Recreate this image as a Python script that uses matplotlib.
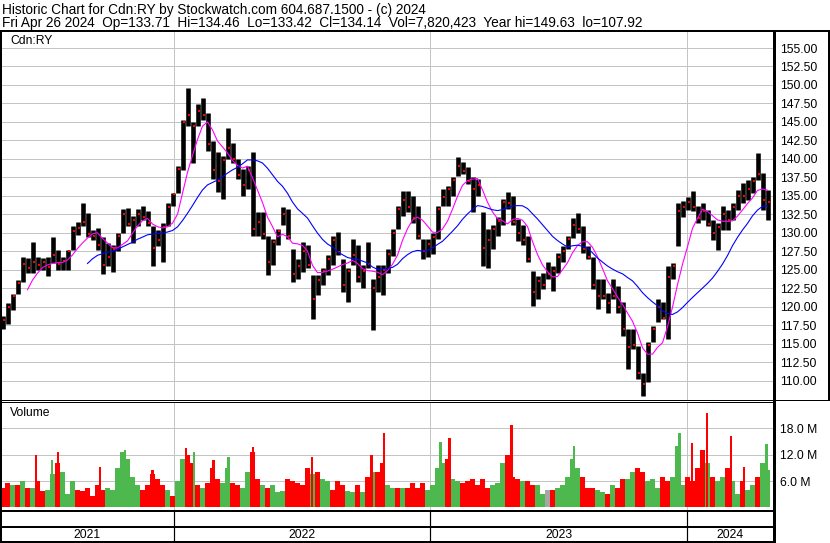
"""
Stockwatch-style historic chart for Cdn:RY, weekly bars read off the reference.
"""
import numpy as np
import pandas as pd
import matplotlib
matplotlib.use("Agg")
import matplotlib.pyplot as plt
from matplotlib.lines import Line2D

plt.rcParams['font.family'] = ['Liberation Sans', 'DejaVu Sans']

# weekly price ranges (high / low / close), oldest first
high = [118.7, 120.5, 121.8, 123.6, 126.8, 126.6, 128.8, 126.8, 126.6, 126.8,
        129.5, 127.7, 126.8, 127.7, 130.9, 131.5, 134.1, 132.7, 130.4, 130.7,
        129.5, 128.6, 128.4, 130.0, 133.2, 133.4, 132.3, 133.2, 133.6, 133.0,
        130.9, 130.4, 131.3, 134.0, 135.4, 139.0, 145.3, 149.6, 145.0, 147.4,
        148.3, 146.2, 142.4, 140.9, 140.4, 144.2, 142.2, 140.0, 138.6, 139.0,
        140.9, 132.8, 132.8, 129.6, 129.2, 130.5, 133.5, 133.2, 127.8, 126.5,
        128.7, 128.3, 124.3, 124.3, 125.2, 127.0, 129.6, 130.1, 126.5, 125.2,
        129.2, 128.3, 125.6, 128.7, 123.8, 125.6, 125.6, 127.8, 130.5, 133.7,
        135.7, 135.7, 135.0, 133.7, 129.2, 129.2, 130.0, 133.7, 135.9, 136.4,
        137.5, 140.2, 139.6, 138.9, 137.5, 137.3, 132.8, 130.5, 131.0, 132.1,
        134.6, 135.5, 135.0, 131.9, 131.0, 129.6, 124.9, 124.2, 124.6, 126.0,
        125.5, 127.3, 128.2, 129.6, 132.0, 132.7, 130.9, 128.2, 126.8, 123.7,
        123.7, 121.9, 123.7, 122.8, 120.6, 117.0, 117.0, 114.7, 111.1, 115.2,
        117.4, 121.0, 120.6, 125.5, 125.9, 134.0, 134.3, 134.9, 135.6, 133.6,
        134.0, 133.1, 131.8, 131.3, 133.6, 133.1, 134.0, 135.8, 136.7, 137.2,
        137.6, 140.8, 138.1, 135.8]
low = [117.0, 117.7, 119.6, 121.8, 123.4, 124.6, 124.6, 125.0, 125.0, 124.2,
       125.9, 125.0, 125.0, 125.0, 127.7, 129.7, 130.9, 129.5, 129.1, 127.7,
       124.4, 125.5, 124.7, 127.6, 130.0, 130.9, 128.6, 130.9, 131.8, 130.9,
       125.5, 128.2, 126.1, 130.9, 133.6, 135.4, 138.5, 144.5, 139.5, 144.4,
       145.3, 141.1, 137.3, 135.5, 134.6, 140.0, 139.5, 137.3, 135.0, 135.9,
       129.6, 129.6, 129.2, 124.3, 125.6, 128.3, 131.0, 129.2, 123.4, 123.8,
       124.7, 125.2, 118.4, 121.6, 122.9, 124.3, 125.6, 127.0, 122.0, 120.7,
       125.6, 123.4, 122.5, 125.2, 116.9, 122.0, 121.6, 124.6, 126.9, 130.5,
       132.3, 132.8, 131.4, 129.2, 126.4, 126.7, 127.1, 129.2, 133.7, 133.7,
       135.0, 137.7, 138.0, 136.6, 132.8, 135.0, 125.5, 125.3, 127.8, 129.6,
       131.0, 133.2, 131.0, 128.9, 128.3, 126.0, 120.1, 121.0, 122.4, 123.7,
       122.1, 124.6, 126.0, 127.8, 129.3, 130.0, 127.3, 126.4, 122.4, 119.7,
       121.0, 119.2, 121.0, 119.2, 116.1, 111.6, 114.3, 110.2, 107.9, 109.8,
       115.2, 117.9, 118.3, 115.6, 123.7, 128.2, 132.2, 133.1, 132.9, 131.3,
       131.8, 130.9, 129.1, 127.7, 130.4, 130.4, 131.8, 133.1, 134.0, 134.5,
       135.4, 137.2, 133.1, 131.8]
close = [118.2, 120.0, 121.5, 123.2, 125.8, 125.2, 126.0, 125.6, 126.0, 125.4,
         127.0, 125.8, 126.2, 127.5, 130.2, 130.6, 131.5, 129.8, 129.6, 128.4,
         125.6, 126.8, 127.8, 129.6, 132.5, 131.2, 131.8, 132.6, 132.2, 131.4,
         128.0, 129.0, 130.8, 133.5, 135.2, 138.6, 145.0, 146.0, 144.5, 146.5,
         146.0, 142.0, 138.5, 137.0, 139.8, 141.5, 140.0, 137.8, 136.5, 138.5,
         130.5, 131.5, 129.8, 126.0, 128.8, 130.2, 132.5, 129.6, 124.5, 125.5,
         127.5, 125.6, 121.0, 123.6, 124.8, 126.5, 129.0, 127.4, 123.0, 124.8,
         127.0, 124.0, 124.8, 125.8, 122.5, 124.0, 125.0, 127.2, 130.0, 133.2,
         134.5, 133.5, 132.0, 129.6, 127.5, 128.5, 129.5, 133.2, 134.8, 136.0,
         137.2, 139.0, 138.4, 137.0, 136.0, 136.5, 128.0, 129.0, 130.5, 131.6,
         134.2, 134.0, 131.5, 130.0, 129.0, 126.5, 122.0, 123.5, 123.0, 124.5,
         124.8, 126.8, 127.5, 129.2, 131.0, 130.5, 127.8, 126.8, 123.0, 121.5,
         121.5, 120.5, 121.5, 120.0, 117.0, 114.5, 114.8, 111.0, 109.5, 114.8,
         117.0, 120.0, 118.5, 124.0, 125.5, 133.0, 133.5, 134.2, 133.5, 132.0,
         133.0, 131.2, 130.0, 130.8, 132.5, 131.8, 133.5, 135.0, 135.0, 136.0,
         137.0, 138.0, 134.5, 134.14]

# weekly volume in millions and bar colour (g = up, r = down, n = unchanged)
volume = [4.5, 5.5, 5.2, 5.0, 6.0, 4.3, 4.5, 6.0, 3.8, 4.0,
          7.5, 10.0, 8.0, 3.0, 6.0, 4.0, 3.8, 4.5, 2.5, 5.0,
          4.0, 4.5, 4.0, 9.0, 12.5, 11.0, 7.0, 5.0, 4.0, 5.0,
          7.5, 6.5, 5.0, 4.0, 2.5, 6.0, 11.0, 12.0, 10.0, 5.0,
          4.5, 5.5, 9.0, 6.5, 5.5, 9.0, 5.5, 5.0, 4.5, 8.0,
          12.5, 6.5, 5.0, 4.5, 5.0, 3.5, 3.8, 6.5, 6.0, 5.5,
          5.0, 9.0, 7.5, 8.0, 6.5, 6.0, 4.0, 6.0, 5.0, 3.8,
          3.5, 5.0, 3.5, 7.0, 8.0, 8.0, 10.0, 5.0, 4.5, 4.5,
          4.5, 4.5, 5.5, 4.5, 5.5, 4.0, 5.0, 9.0, 10.0, 11.0,
          6.5, 6.0, 5.5, 6.0, 6.5, 5.0, 6.5, 4.5, 5.0, 5.5,
          10.0, 12.0, 7.0, 6.5, 6.0, 6.0, 5.0, 5.0, 3.0, 4.0,
          4.0, 4.5, 5.0, 7.0, 11.0, 9.0, 7.0, 4.5, 4.5, 4.0,
          3.5, 3.0, 5.0, 4.5, 6.5, 6.5, 8.0, 9.0, 8.0, 6.0,
          6.5, 4.5, 7.0, 6.0, 7.0, 14.0, 5.0, 7.0, 6.0, 9.0,
          13.0, 10.0, 7.0, 6.0, 7.0, 9.0, 6.0, 3.0, 6.0, 4.0,
          5.0, 7.0, 10.0, 8.5]
vol_dir = list("rrgrgrgrrg" "grgggrrrrr" "rgggggggrr" "rrrgrggrrr" "grrrggrrgg"
               "rrgrgggrrr" "rrgrggrrrg" "grgrgrrggr" "grrrrggggr" "ggrrrrrrgg"
               "grrrgrrggn" "rgggggrrrg" "grgrrggrrg" "ggrrgggrrr" "rgrggrggrg"
               "grgg")

# single heavy-volume days (week position, millions, colour)
spike_week = [6.7, 9.9, 11.1, 19.5, 24.5, 30.0, 36.7, 38.3, 42.2, 45.2, 50.1, 61.9,
              73.8, 76.3, 87.6, 89.4, 101.8, 114.3, 135.4, 137.9, 140.9, 145.7,
              148.3, 152.8]
spike_vol = [12.0, 10.7, 12.7, 9.2, 13.0, 8.5, 13.5, 12.7, 10.8, 11.5, 13.8, 11.5,
             12.0, 16.9, 14.8, 15.8, 18.7, 13.9, 16.9, 14.6, 21.5, 16.2, 9.2, 14.4]
spike_dir = list("rgrrgrrgrgrrrrgrrggrrrrg")

year_labels = ["2021", "2022", "2023", "2024"]
year_breaks = [34.3, 85.5, 136.9]  # week position where each new year starts

n = len(close)
x = np.arange(n)
ma_fast = pd.Series(close).rolling(6).mean()
ma_slow = pd.Series(close).rolling(18).mean()

W, H = 830, 543
fig = plt.figure(figsize=(W / 100, H / 100), dpi=100)


def fx(px):
    return px / W


def fy(py):
    return 1 - py / H


def hline(py, x0, x1, lw):
    fig.add_artist(Line2D([fx(x0), fx(x1)], [fy(py), fy(py)], transform=fig.transFigure,
                          color='black', lw=lw * 0.72, solid_capstyle='butt'))


def vline(px, y0, y1, lw, color='black'):
    fig.add_artist(Line2D([fx(px), fx(px)], [fy(y0), fy(y1)], transform=fig.transFigure,
                          color=color, lw=lw * 0.72, solid_capstyle='butt'))


xmin, xmax = -0.3, 154.1
grid_c = '#c4c4c4'
col_map = {'g': '#4db84d', 'r': '#ff0000', 'n': '#a6a6a6'}

# price panel
ax_p = fig.add_axes([fx(1), fy(400), fx(773) - fx(1), fy(31) - fy(400)])
ax_p.set_xlim(xmin, xmax)
ax_p.set_ylim(107.4, 157.3)
ax_p.set_yticks(np.arange(110, 155.1, 2.5))
ax_p.set_yticklabels([f"{v:.2f}" for v in np.arange(110, 155.1, 2.5)])
ax_p.yaxis.tick_right()
ax_p.tick_params(axis='y', length=0, pad=5, labelsize=8.7)
ax_p.set_xticks([])
ax_p.grid(axis='y', color=grid_c, lw=0.72)
for b in year_breaks:
    ax_p.axvline(b, color=grid_c, lw=0.72, zorder=0.5)
ax_p.vlines(x, low, high, color='black', lw=3.3, zorder=2)
ax_p.plot(x + 0.3, close, 's', color='red', ms=1.6, mew=0, zorder=3)
ax_p.plot(x, ma_fast, color='#ff00ff', lw=0.8, zorder=4)
ax_p.plot(x, ma_slow, color='#0000ff', lw=0.8, zorder=4)
ax_p.text(fx(9) / (fx(773) - fx(1)), 0.972, "Cdn:RY", transform=ax_p.transAxes,
          fontsize=8.7, va='center', ha='left')
for s in ax_p.spines.values():
    s.set_visible(False)

# volume panel
ax_v = fig.add_axes([fx(1), fy(510), fx(773) - fx(1), fy(402) - fy(510)])
ax_v.set_xlim(xmin, xmax)
ax_v.set_ylim(-0.6, 24)
ax_v.set_yticks([6, 12, 18])
ax_v.set_yticklabels(["6.0 M", "12.0 M", "18.0 M"])
ax_v.yaxis.tick_right()
ax_v.tick_params(axis='y', length=0, pad=5, labelsize=8.7)
ax_v.set_xticks([])
ax_v.grid(axis='y', color=grid_c, lw=0.72)
ax_v.set_axisbelow(True)
for b in year_breaks:
    ax_v.axvline(b, color=grid_c, lw=0.72, zorder=0.5)
ax_v.bar(x, volume, width=0.9, color=[col_map[c] for c in vol_dir], lw=0, zorder=2)
ax_v.bar(spike_week, spike_vol, width=0.42, color=[col_map[c] for c in spike_dir],
         lw=0, zorder=3)
ax_v.text(fx(9) / (fx(773) - fx(1)), 0.9, "Volume", transform=ax_v.transAxes,
          fontsize=8.7, va='center', ha='left')
for s in ax_v.spines.values():
    s.set_visible(False)

# date strip
ax_d = fig.add_axes([fx(1), fy(541), fx(773) - fx(1), fy(527) - fy(541)])
ax_d.set_xlim(xmin, xmax)
ax_d.set_ylim(0, 1)
ax_d.axis('off')
edges = [xmin] + year_breaks + [xmax]
for i, lab in enumerate(year_labels):
    ax_d.text((edges[i] + edges[i + 1]) / 2, 0.45, lab, ha='center', va='center', fontsize=8.7)

# frame lines
hline(30.5, 0, 830, 2)
vline(1, 30, 543, 2)
vline(774, 30, 543, 3)
vline(828.5, 30, 401, 2)
hline(399.5, 0, 830, 1)
hline(401.5, 0, 774, 1)
hline(510.5, 0, 774, 2)
hline(527, 0, 774, 2)
hline(541.5, 0, 774, 2)
for b in year_breaks:
    px = 1 + (b - xmin) / (xmax - xmin) * 772
    vline(px, 510, 542, 1.2)

fig.text(fx(2), fy(14), "Historic Chart for Cdn:RY by Stockwatch.com 604.687.1500 - (c) 2024",
         fontsize=9.8, va='baseline', ha='left')
fig.text(fx(2), fy(26.5), "Fri Apr 26 2024  Op=133.71  Hi=134.46  Lo=133.42  Cl=134.14  "
         "Vol=7,820,423  Year hi=149.63  lo=107.92", fontsize=9.8, va='baseline', ha='left')

fig.savefig("out.png", dpi=100)
